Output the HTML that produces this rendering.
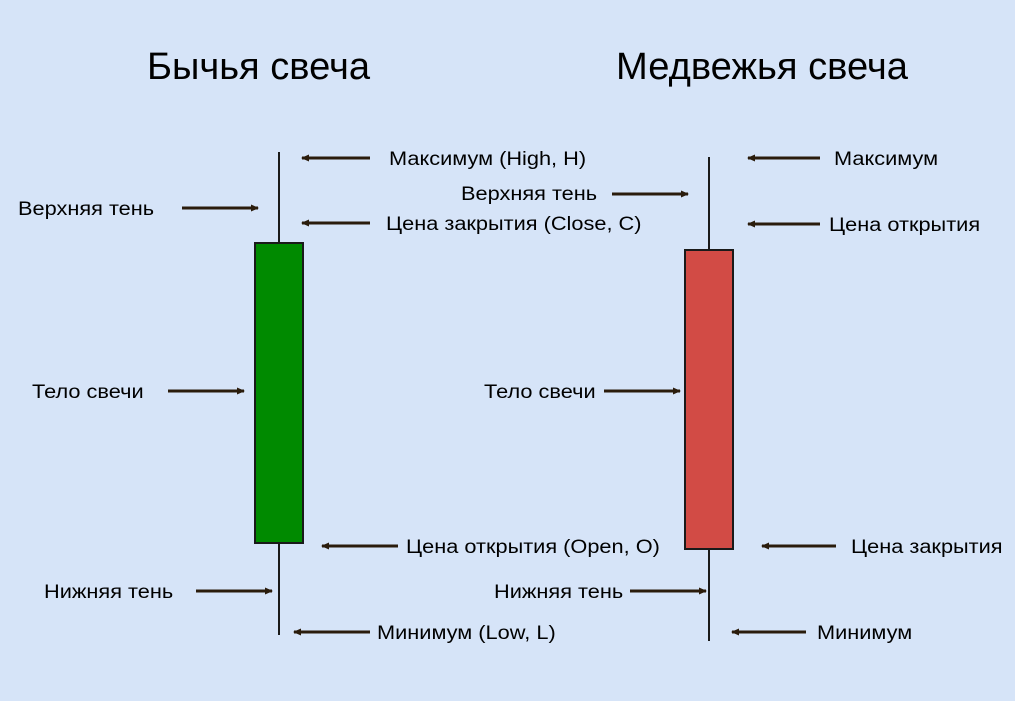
<!DOCTYPE html>
<html><head><meta charset="utf-8"><style>
html,body{margin:0;padding:0;background:#d6e4f8;}
svg{display:block;font-family:"Liberation Sans",sans-serif;}
</style></head><body>
<svg id="c" width="1015" height="701">
<defs><marker id="ah" markerWidth="8" markerHeight="8" refX="7" refY="4" orient="auto" markerUnits="userSpaceOnUse"><path d="M0,0.5 L8,4 L0,7.5 z" fill="#2a1c0c"/></marker></defs>
<text x="147" y="79" font-size="38" textLength="223" lengthAdjust="spacingAndGlyphs" fill="#000">Бычья свеча</text>
<text x="616" y="79" font-size="38" textLength="292" lengthAdjust="spacingAndGlyphs" fill="#000">Медвежья свеча</text>
<g id="g"></g>
</svg>
<script>
const candleNames=['bull','bear'];
const opens=[157,450];
const highs=[548,543];
const lows=[65,59];
const closes=[457,151];
const centers=[279,709];
const y=v=>700-v;
const g=document.getElementById('g');
const NS='http://www.w3.org/2000/svg';
function mk(t,a){const e=document.createElementNS(NS,t);for(const k in a)e.setAttribute(k,a[k]);g.appendChild(e);return e;}
candleNames.forEach((n,i)=>{
  const w=mk('line',{x1:centers[i],x2:centers[i],y1:y(highs[i]),y2:y(lows[i]),stroke:'#1a1a1a','stroke-width':2});
  
  
  const top=Math.max(opens[i],closes[i]),bot=Math.min(opens[i],closes[i]);
  const b=mk('rect',{x:centers[i]-24,y:y(top),width:48,height:top-bot,fill:closes[i]>opens[i]?'#008a00':'#d24b45',stroke:'#1a1a1a','stroke-width':2});
  
  
});
const arrows=[
[370,302,158,'Максимум (High, H)',389,'left'],
[182,258,208,'Верхняя тень',18,'left'],
[370,302,223,'Цена закрытия (Close, C)',386,'left'],
[168,244,391,'Тело свечи',32,'left'],
[398,322,546,'Цена открытия (Open, O)',406,'left'],
[196,272,591,'Нижняя тень',44,'left'],
[370,294,632,'Минимум (Low, L)',377,'left'],
[820,748,158,'Максимум',834,'right'],
[612,688,194,'Верхняя тень',461,'right'],
[820,748,224,'Цена открытия',829,'right'],
[604,680,391,'Тело свечи',484,'right'],
[836,762,546,'Цена закрытия',851,'right'],
[630,706,591,'Нижняя тень',494,'right'],
[806,732,632,'Минимум',817,'right']
];
arrows.forEach(a=>{
  const l=mk('line',{x1:a[0],x2:a[1],y1:a[2],y2:a[2],stroke:'#2a1c0c','stroke-width':3,'marker-end':'url(#ah)'});
  
  
  const ty=a[3]==='Верхняя тень'&&a[5]==='right'?a[2]-1:a[2];
  const t=mk('text',{x:a[4],y:ty+7,'font-size':19,fill:'#000'});
  t.textContent=a[3];
  
  
  const len=t.getComputedTextLength();
  t.setAttribute('textLength',(len*1.145).toFixed(1));
  t.setAttribute('lengthAdjust','spacingAndGlyphs');
});
</script>
</body></html>
